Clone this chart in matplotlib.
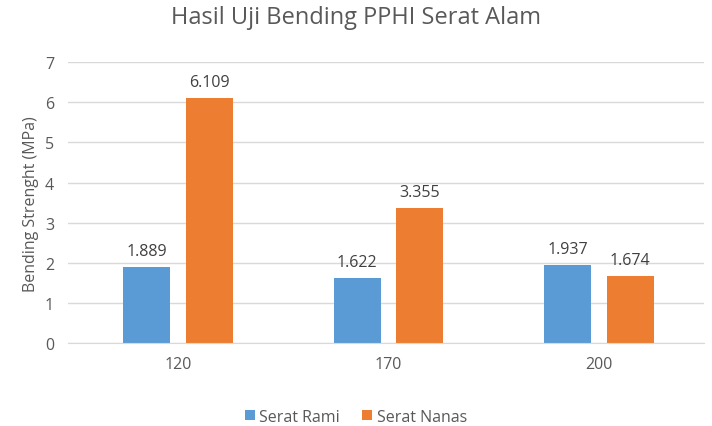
import matplotlib
matplotlib.use("Agg")
import matplotlib.pyplot as plt
import numpy as np

categories = ["120", "170", "200"]
rami = [1.889, 1.622, 1.937]
nanas = [6.109, 3.355, 1.674]
rami_labels = ["1.889", "1.622", "1.937"]
nanas_labels = ["6.109", "3.355", "1.674"]

plt.rcParams['font.family'] = ['Open Sans', 'DejaVu Sans']
txt = '#595959'
blue = '#5B9BD5'
orange = '#ED7D31'

fig = plt.figure(figsize=(7.12, 4.27), dpi=100)
ax = fig.add_axes([68/712, 0.194, (704-68)/712, 0.658])

x = np.arange(len(categories))
w = 0.224
off = 0.148
ax.bar(x - off, rami, w, color=blue, label='Serat Rami', zorder=3)
ax.bar(x + off, nanas, w, color=orange, label='Serat Nanas', zorder=3)

for xi, v, s in zip(x, rami, rami_labels):
    ax.text(xi - off, v + 0.2, s, ha='center', va='bottom', fontsize=11.5, color='#404040')
for xi, v, s in zip(x, nanas, nanas_labels):
    ax.text(xi + off, v + 0.2, s, ha='center', va='bottom', fontsize=11.5, color='#404040')

ax.set_xlim(-0.5226, 2.499)
ax.set_ylim(0, 7)
ax.set_yticks(range(8))
ax.set_xticks(x)
ax.set_xticklabels(categories)
ax.tick_params(axis='both', length=0, labelsize=11.5, colors=txt)
ax.tick_params(axis='x', pad=9)
ax.tick_params(axis='y', pad=10)
ax.grid(axis='y', color='#D9D9D9', linewidth=1, zorder=0)
for s in ['top', 'right', 'left']:
    ax.spines[s].set_visible(False)
ax.spines['bottom'].set_color('#D9D9D9')
ax.spines['bottom'].set_zorder(4)

ax.set_ylabel('Bending Strenght (MPa)', fontsize=11.5, color=txt, labelpad=4)
fig.text(0.5, 0.958, 'Hasil Uji Bending PPHI Serat Alam', ha='center', va='center',
         fontsize=17, color=txt)

fig.legend(loc='center', bbox_to_anchor=(0.5, 0.022), ncol=2, frameon=False,
           fontsize=11.5, labelcolor=txt, handlelength=0.6, handleheight=0.6,
           handletextpad=0.3, columnspacing=1.4)

fig.savefig('out.png', dpi=100)
